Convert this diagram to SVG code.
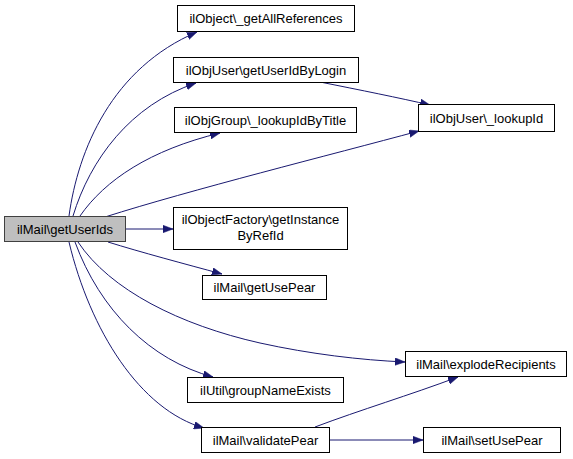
<svg xmlns="http://www.w3.org/2000/svg" width="573" height="459" viewBox="0 0 573 459">
<style>
.node rect{fill:#ffffff;stroke:#000000;stroke-width:1}
.node.main rect{fill:#bfbfbf;stroke:#404040}
.node text{font-family:"Liberation Sans",Arial,sans-serif;font-size:13px;fill:#000000;text-anchor:middle}
.edge path{fill:none;stroke:#191970;stroke-width:1}
</style>
<defs>
<marker id="arr" markerUnits="userSpaceOnUse" markerWidth="11" markerHeight="8" refX="10" refY="3.75" orient="auto">
<path d="M0,0 L10,3.75 L0,7.5 z" fill="#191970" stroke="#191970" stroke-width="0.5"/>
</marker>
</defs>
<rect width="573" height="459" fill="#ffffff"/>
<g id="edges" class="edge">
<path d="M69,216 C78,150 112,68 197,32" marker-end="url(#arr)"/>
<path d="M73,216 C90,160 130,105 196,83" marker-end="url(#arr)"/>
<path d="M80,216 C105,180 150,150 220,133" marker-end="url(#arr)"/>
<path d="M105,217 C190,190 330,155 419,131" marker-end="url(#arr)"/>
<path d="M125,229 L173,229" marker-end="url(#arr)"/>
<path d="M108,242 C140,252 185,264 222,274" marker-end="url(#arr)"/>
<path d="M78,242 C110,290 180,325 260,343 C310,354 360,360 405,362" marker-end="url(#arr)"/>
<path d="M75,242 C100,310 150,360 213,377" marker-end="url(#arr)"/>
<path d="M69,242 C90,330 140,410 204,428" marker-end="url(#arr)"/>
<path d="M320,82 C360,90 400,98 430,105" marker-end="url(#arr)"/>
<path d="M315,427 C360,410 410,395 458,377" marker-end="url(#arr)"/>
<path d="M329,440 L423,440" marker-end="url(#arr)"/>
</g>
<g id="n_getUserIds" class="node main"><rect x="4.5" y="216.5" width="121" height="25"/><text x="65" y="233.5">ilMail\getUserIds</text></g>
<g id="n_getAllReferences" class="node"><rect x="177.5" y="5.5" width="177" height="26"/><text x="266" y="23">ilObject\_getAllReferences</text></g>
<g id="n_getUserIdByLogin" class="node"><rect x="173.5" y="57.5" width="185" height="25"/><text x="266" y="74.5">ilObjUser\getUserIdByLogin</text></g>
<g id="n_lookupIdByTitle" class="node"><rect x="174.5" y="107.5" width="182" height="25"/><text x="265.5" y="124.5">ilObjGroup\_lookupIdByTitle</text></g>
<g id="n_lookupId" class="node"><rect x="418.5" y="104.5" width="136" height="27"/><text x="486.5" y="122.5">ilObjUser\_lookupId</text></g>
<g id="n_getInstanceByRefId" class="node"><rect x="173.5" y="207.5" width="174" height="42"/><text x="260.5" y="224">ilObjectFactory\getInstance</text><text x="260.5" y="240">ByRefId</text></g>
<g id="n_getUsePear" class="node"><rect x="202.5" y="275.5" width="124" height="24"/><text x="264.5" y="292">ilMail\getUsePear</text></g>
<g id="n_explodeRecipients" class="node"><rect x="405.5" y="351.5" width="161" height="25"/><text x="486" y="368.5">ilMail\explodeRecipients</text></g>
<g id="n_groupNameExists" class="node"><rect x="187.5" y="377.5" width="156" height="25"/><text x="265.5" y="394.5">ilUtil\groupNameExists</text></g>
<g id="n_validatePear" class="node"><rect x="201.5" y="427.5" width="128" height="25"/><text x="265.5" y="444.5">ilMail\validatePear</text></g>
<g id="n_setUsePear" class="node"><rect x="423.5" y="427.5" width="137" height="25"/><text x="492" y="444.5">ilMail\setUsePear</text></g>
</svg>
